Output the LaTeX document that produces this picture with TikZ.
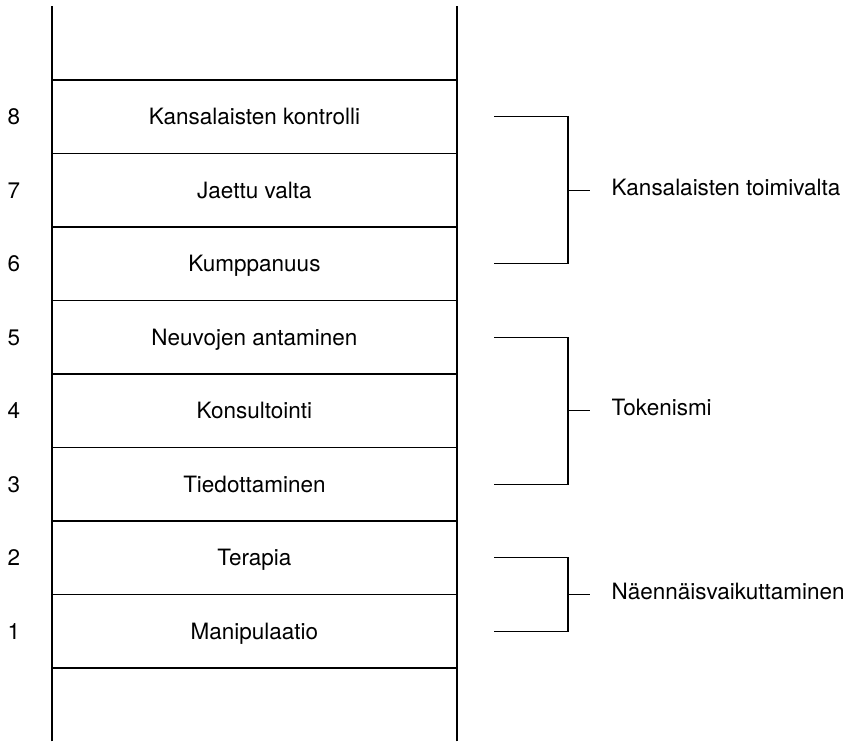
\documentclass[tikz,border=0pt]{standalone}
\usepackage{fontspec}
\setmainfont{TeX Gyre Heros}
\begin{document}
\begin{tikzpicture}[x=1cm, y=1.8375cm, line width=1pt,
    every node/.style={font=\fontsize{16}{19}\selectfont},
    taso/.style={text height=0.72em, text depth=0pt, inner sep=0pt, yshift=-0.07cm},
    ryhma/.style={anchor=west, text height=0.72em, text depth=0pt, inner sep=0pt}]
\useasboundingbox (0,-1.0068) rectangle (21.25,9.0884);

% Tikkaiden sivupuut
\draw (1.3,-1) -- (1.3,9);
\draw (11.425,-1) -- (11.425,9);

% Puolat
\foreach \k in {0,...,8} {
    \draw (1.3,\k) -- (11.425,\k);
}

% Portaat
\foreach \n/\t in {1/Manipulaatio,2/Terapia,3/Tiedottaminen,4/Konsultointi,
    5/Neuvojen antaminen,6/Kumppanuus,7/Jaettu valta,8/Kansalaisten kontrolli} {
    \node[taso] (n\n) at (0.35,\n-0.5) {\n};
    \node[taso] (l\n) at (6.36,\n-0.5) {\t};
}

% Ryhmät
\foreach \a/\b/\m/\g/\t in {7.5/5.5/6.5/g3/Kansalaisten toimivalta,
    4.5/2.5/3.5/g2/Tokenismi,1.5/0.5/1/g1/Näennäisvaikuttaminen} {
    \node[ryhma] (\g) at (15.275,\m) {\t};
    \draw (12.35,\a) -- (14.2,\a) -- (14.2,\b) -- (12.35,\b);
    \draw (14.2,\m) -- ([xshift=-0.525cm]\g.west);
}

\end{tikzpicture}
\end{document}
